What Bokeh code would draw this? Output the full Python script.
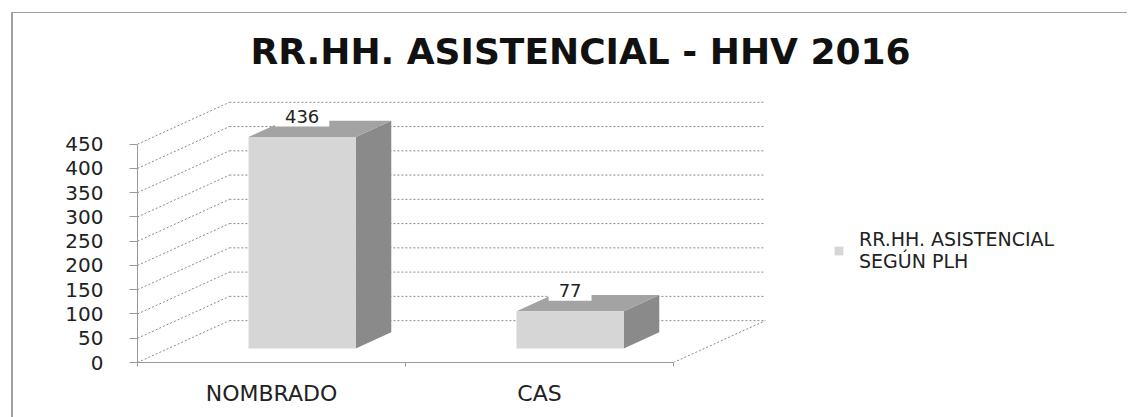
from bokeh.plotting import figure
from bokeh.models import (ColumnDataSource, FixedTicker, Legend, LegendItem)
from bokeh.core.properties import value
from bokeh.embed import file_html
from bokeh.resources import INLINE

# ---- data ----
categories = ["NOMBRADO", "CAS"]
values = [436, 77]
y_ticks = [0, 50, 100, 150, 200, 250, 300, 350, 400, 450]
series_name = "RR.HH. ASISTENCIAL\nSEGÚN PLH"
title_text = "RR.HH. ASISTENCIAL  - HHV 2016"

# ---- pseudo-3D geometry (category units / value units) ----
DEPTH_X = 0.343     # back wall shift, in category units
DEPTH_Y = 86.3      # back wall shift, in value units
BAR_Z0, BAR_Z1 = 0.333, 0.72
BAR_W = 0.40
N = len(categories)
X_END = 3.724
Y_END = 540

FRONT = "#d6d6d6"
SIDE = "#8a8a8a"
TOP = "#a3a3a3"
GRID = "#8a8a8a"
FRAME = "#a0a0a0"

p = figure(width=1135, height=417, x_range=(0, X_END), y_range=(0, Y_END),
           output_backend="svg", toolbar_location=None,
           min_border_left=137, min_border_right=0, min_border_top=99,
           min_border_bottom=55)
p.outline_line_color = None
p.xgrid.visible = False
p.ygrid.visible = False
p.background_fill_color = "white"
p.border_fill_alpha = 0
# chart-area frame (only its left and top edges are visible in the reference)
p.styles = {
    "background-color": "white",
    "background-image": ("linear-gradient(white,white), "
                         f"linear-gradient({FRAME},{FRAME}), "
                         f"linear-gradient({FRAME},{FRAME})"),
    "background-position": "right 0px top 0px, 11px 12px, 11px 13px",
    "background-size": "8px 100%, 1200px 1px, 2px 600px",
    "background-repeat": "no-repeat, no-repeat, no-repeat",
    "border": "none",
    "overflow": "hidden",
}

# title
p.title.text = title_text
p.title.text_font = "DejaVu Sans"
p.title.text_font_style = "bold"
p.title.text_font_size = "36px"
p.title.text_color = "#111111"
p.title.align = "left"
p.title.offset = 113
p.title.standoff = 57

# back-wall gridlines and side-wall diagonals from the tick values
gx0 = [DEPTH_X] * len(y_ticks)
gx1 = [N + DEPTH_X] * len(y_ticks)
gy = [t + DEPTH_Y for t in y_ticks]
p.segment(x0=gx0, y0=gy, x1=gx1, y1=gy, line_color=GRID, line_width=1,
          line_dash="2 2")
p.segment(x0=[0] * len(y_ticks), y0=y_ticks, x1=gx0, y1=gy, line_color=GRID,
          line_width=1, line_dash="2 2")
p.segment(x0=[N], y0=[0], x1=[N + DEPTH_X], y1=[DEPTH_Y], line_color=GRID,
          line_width=1, line_dash="2 2")

# bars
dz = BAR_Z1 - BAR_Z0
ddx, ddy = dz * DEPTH_X, dz * DEPTH_Y
xc = [i + 0.5 + BAR_Z0 * DEPTH_X for i in range(N)]
left = [c - BAR_W / 2 for c in xc]
right = [c + BAR_W / 2 for c in xc]
bottom = [BAR_Z0 * DEPTH_Y] * N
top = [v + BAR_Z0 * DEPTH_Y for v in values]

side_xs = [[r, r + ddx, r + ddx, r] for r in right]
side_ys = [[b, b + ddy, t + ddy, t] for b, t in zip(bottom, top)]
top_xs = [[l, l + ddx, r + ddx, r] for l, r in zip(left, right)]
top_ys = [[t, t + ddy, t + ddy, t] for t in top]

p.patches(side_xs, side_ys, fill_color=SIDE, line_color=None)
p.patches(top_xs, top_ys, fill_color=TOP, line_color=None)
src = ColumnDataSource(dict(cat=categories, val=values, left=left, right=right,
                            bottom=bottom, top=top, xc=xc,
                            lab=[str(v) for v in values]))
front = p.quad(left="left", right="right", bottom="bottom", top="top",
               source=src, fill_color=FRONT, line_color=None)

p.text(x="xc", y="top", text="lab", source=src, y_offset=-21,
       text_align="center", text_baseline="alphabetic",
       text_font=value("DejaVu Sans"), text_font_size=value("18px"),
       text_color="#222222", background_fill_color="white",
       padding=(10, 4))

# axes
ya = p.yaxis[0]
ya.ticker = FixedTicker(ticks=y_ticks)
ya.bounds = (0, 450)
ya.axis_line_color = "#999999"
ya.major_tick_line_color = "#999999"
ya.major_tick_out = 8
ya.major_tick_in = 0
ya.minor_tick_line_color = None
ya.major_label_standoff = 26
ya.major_label_text_font = "DejaVu Sans"
ya.major_label_text_font_size = "20px"
ya.major_label_text_color = "#222222"

xa = p.xaxis[0]
xa.ticker = FixedTicker(ticks=[i + 0.5 for i in range(N)],
                        minor_ticks=list(range(N + 1)))
xa.major_label_overrides = {i + 0.5: c for i, c in enumerate(categories)}
xa.bounds = (0, N)
xa.axis_line_color = "#999999"
xa.major_tick_line_color = None
xa.major_tick_out = 0
xa.minor_tick_line_color = "#999999"
xa.minor_tick_out = 4
xa.minor_tick_in = 0
xa.major_label_standoff = 14
xa.major_label_text_font = "DejaVu Sans"
xa.major_label_text_font_size = "22px"
xa.major_label_text_color = "#222222"

legend = Legend(items=[LegendItem(label=series_name, renderers=[front])],
                location=(696, 90))
legend.border_line_color = None
legend.background_fill_alpha = 0
legend.padding = 0
legend.margin = 0
legend.glyph_width = 11
legend.glyph_height = 11
legend.label_standoff = 15
legend.label_text_font = "DejaVu Sans"
legend.label_text_font_size = "19px"
legend.label_text_color = "#222222"
p.add_layout(legend)

open("out.html", "w").write(file_html(p, INLINE))
